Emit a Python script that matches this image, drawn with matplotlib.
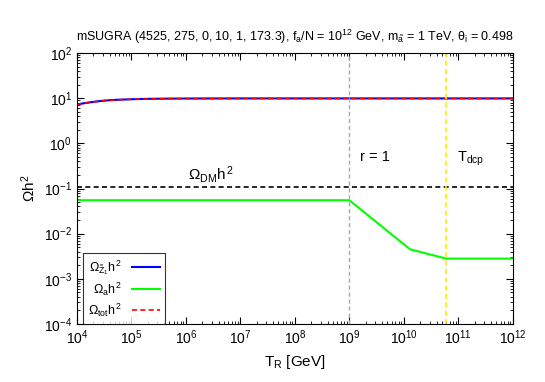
import numpy as np
import matplotlib
matplotlib.use('Agg')
import matplotlib.pyplot as plt
from matplotlib.ticker import LogLocator, NullFormatter

plt.rcParams['font.family'] = ['Liberation Sans', 'DejaVu Sans']
plt.rcParams['mathtext.fontset'] = 'custom'
plt.rcParams['mathtext.rm'] = 'Liberation Sans'
plt.rcParams['mathtext.it'] = 'Liberation Sans'

# data
t_reh = [1e4, 1.5e4, 2e4, 3e4, 5e4, 1e5, 2e5, 5e5, 1e6, 1e7, 1e8, 1e9, 1e10, 1e11, 1e12]
omega_z1 = [7.3, 7.9, 8.3, 8.8, 9.2, 9.5, 9.7, 9.8, 9.85, 9.9, 9.9, 9.9, 9.9, 9.9, 9.9]
omega_tot = omega_z1

t_axion = [1e4, 1e9, 1.3e10, 6e10, 1e12]
omega_axion = [0.055, 0.055, 0.0045, 0.0028, 0.0028]

omega_dm = 0.11
t_r1 = 1e9
t_dcp = 6e10

fig = plt.figure(figsize=(5.45, 3.82), dpi=100)
ax = fig.add_axes([0.141, 0.152, 0.800, 0.709])

ax.plot(t_reh, omega_z1, color='blue', lw=1.5, label=r'$\Omega_{\tilde{Z}_1}h^2$')
ax.plot(t_axion, omega_axion, color='#00ff00', lw=1.5, label=r'$\Omega_a h^2$')
ax.plot(t_reh, omega_tot, color='red', lw=1.2, ls=(0, (3, 2)), label=r'$\Omega_{tot}h^2$')

ax.axhline(omega_dm, color='black', lw=1.2, ls=(0, (3, 2)))
ax.axvline(t_r1, color='#aaaaaa', lw=1, ls=(0, (3, 2)))
ax.axvline(t_dcp, color='#ffee00', lw=1.2, ls=(0, (3, 2)))

ax.set_xscale('log')
ax.set_yscale('log')
ax.set_xlim(1e4, 1e12)
ax.set_ylim(1e-4, 1e2)

ax.xaxis.set_major_locator(LogLocator(base=10, numticks=20))
ax.yaxis.set_major_locator(LogLocator(base=10, numticks=20))
ax.xaxis.set_minor_locator(LogLocator(base=10, subs=np.arange(2, 10), numticks=20))
ax.yaxis.set_minor_locator(LogLocator(base=10, subs=np.arange(2, 10), numticks=20))
ax.xaxis.set_minor_formatter(NullFormatter())
ax.yaxis.set_minor_formatter(NullFormatter())
ax.tick_params(which='both', direction='in', top=True, right=True, labelsize=10)
ax.tick_params(which='major', length=5)
ax.tick_params(which='minor', length=2.5)

ax.text(1.1e6, 0.16, r'$\Omega_{DM}h^2$', fontsize=11)
ax.text(1.6e9, 0.4, 'r = 1', fontsize=10.5)
ax.text(9.5e10, 0.4, r'T$_{dcp}$', fontsize=10.5)

ax.set_xlabel('T$_R$ [GeV]', fontsize=11)
ax.set_ylabel(r'$\Omega$h$^2$', fontsize=11)
ax.set_title(r'mSUGRA (4525, 275, 0, 10, 1, 173.3), f$_a$/N = 10$^{12}$ GeV, m$_{\tilde{a}}$ = 1 TeV, $\theta_i$ = 0.498',
             fontsize=9, pad=9)

leg = ax.legend(loc='lower left', markerfirst=False, fontsize=9, frameon=True,
                fancybox=False, edgecolor='black', handlelength=2.2,
                borderaxespad=0.0, bbox_to_anchor=(0.015, 0.0), labelspacing=0.3)
leg.get_frame().set_linewidth(0.8)
for t in leg.get_texts():
    t.set_ha('right')

fig.savefig('out.png', dpi=100)
